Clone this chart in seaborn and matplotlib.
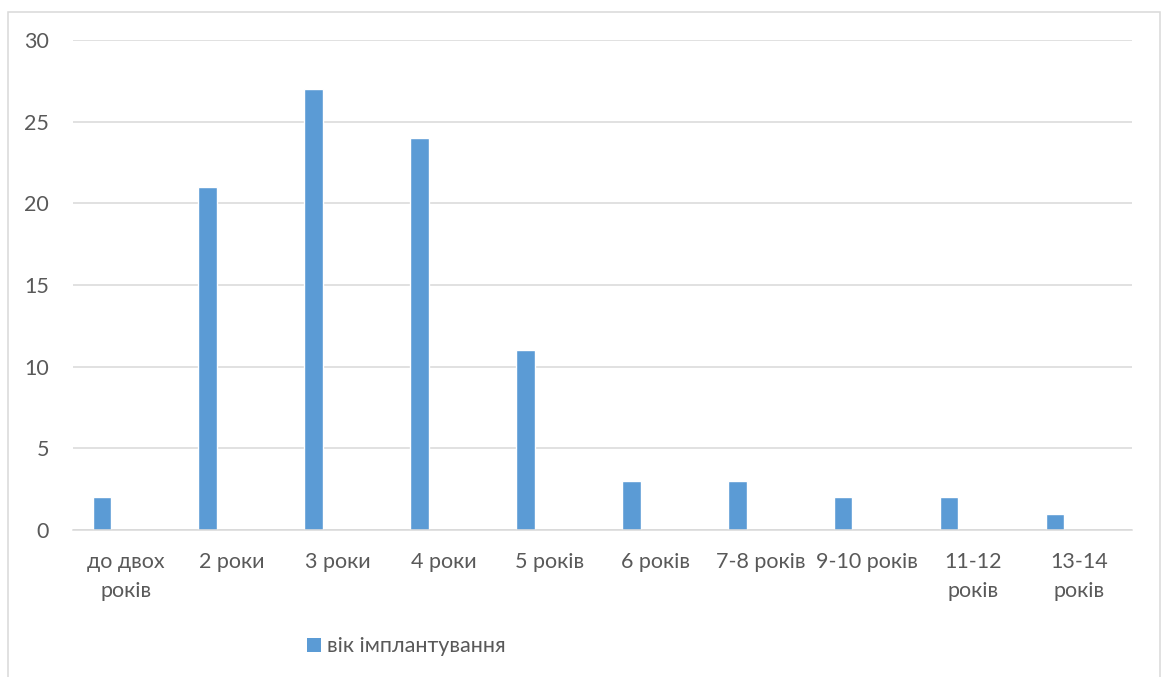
import numpy as np
import pandas as pd
import matplotlib
matplotlib.use("Agg")
import matplotlib.pyplot as plt
from matplotlib.patches import Patch, Rectangle
import seaborn as sns

# Age at implantation: category labels and counts
categories = ["до двох\nроків", "2 роки", "3 роки", "4 роки", "5 років",
              "6 років", "7-8 років", "9-10 років", "11-12\nроків", "13-14\nроків"]
counts = [2, 21, 27, 24, 11, 3, 3, 2, 2, 1]
series_name = "вік імплантування"
y_ticks = [0, 5, 10, 15, 20, 25, 30]

BAR = "#5B9BD5"
TEXT = "#595959"
GRID = "#D9D9D9"

sns.set_theme(style="white")
plt.rcParams["font.family"] = ["Lato", "DejaVu Sans"]

df = pd.DataFrame({"category": categories, "count": counts})

fig = plt.figure(figsize=(11.61, 6.77), dpi=100)
W, H = 1161, 677
ax = fig.add_axes([72.7 / W, 1 - 530 / H, (1132 - 72.7) / W, (530 - 40) / H])

sns.barplot(data=df, x="category", y="count", order=categories,
            color=BAR, width=0.174, saturation=1, ax=ax, zorder=3)

# bars sit on the left part of each category slot
offset = 0.226
ax.set_xlim(-0.5 + offset - 0.5 + 0.5 - 0.0, len(categories) - 0.5 + offset)
ax.set_xlim(-0.274, len(categories) - 0.274)
ax.set_xticks(np.arange(len(categories)) + offset)
ax.set_xticklabels(categories, fontsize=15.5, color=TEXT, linespacing=1.6)

ax.set_ylim(0, 30)
ax.set_yticks(y_ticks)
ax.set_yticklabels([str(v) for v in y_ticks], fontsize=15.5, color=TEXT)

ax.set_xlabel("")
ax.set_ylabel("")
ax.tick_params(axis="both", length=0)
ax.tick_params(axis="y", pad=17)
ax.tick_params(axis="x", pad=15.5)

ax.grid(axis="y", color=GRID, linewidth=1.1, zorder=0)
ax.set_axisbelow(True)
for side in ["left", "right", "top"]:
    ax.spines[side].set_visible(False)
ax.spines["bottom"].set_color(GRID)
ax.spines["bottom"].set_linewidth(1.1)
ax.spines["bottom"].set_zorder(4)

# legend below the plot
handle = Patch(facecolor=BAR, edgecolor="none")
fig.legend(handles=[handle], labels=[series_name], loc="center left",
           bbox_to_anchor=(306.7 / W, 1 - 646.5 / H), frameon=False,
           fontsize=15.5, labelcolor=TEXT, handlelength=0.65, handleheight=0.65,
           handletextpad=0.3, borderpad=0, borderaxespad=0)

# chart frame
fig.add_artist(Rectangle((8 / W, -0.05), (1160 - 8) / W, 1.05 - 11.5 / H,
                         transform=fig.transFigure, fill=False,
                         edgecolor=GRID, linewidth=1.1))

fig.savefig("out.png", dpi=100)
